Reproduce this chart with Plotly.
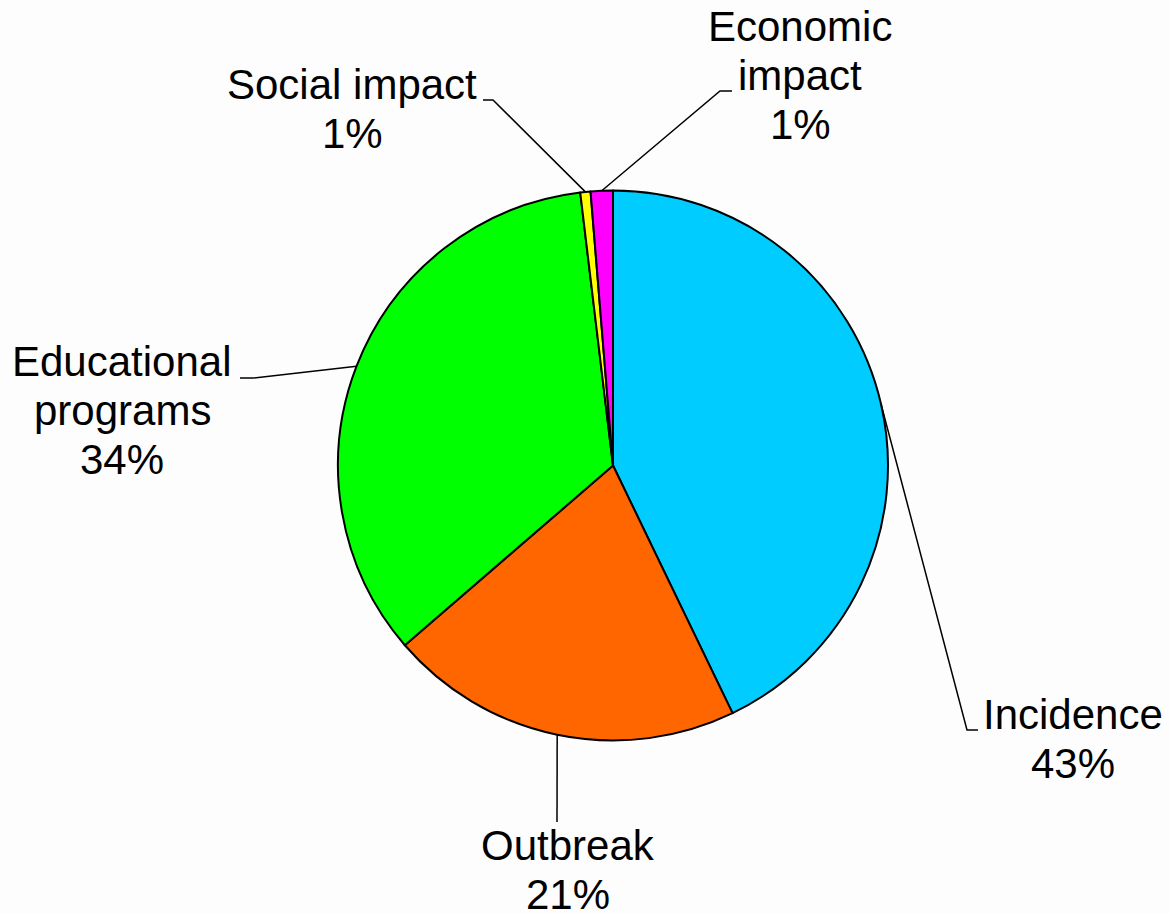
import math
import plotly.graph_objects as go

# ---- data ----
categories = ["Incidence", "Outbreak", "Educational programs", "Social impact", "Economic impact"]
values = [42.8, 20.8, 34.4, 0.6, 1.3]
colors = ["#00CCFF", "#FF6600", "#00FF00", "#FFFF00", "#FF00FF"]
label_lines = [["Incidence"], ["Outbreak"], ["Educational", "programs"], ["Social impact"], ["Economic", "impact"]]

# ---- layout constants (pixels) ----
W, H = 1169, 914
CX, CY, R = 613, 465.5, 275
FONT = 42
LINE_STEP = 49
# first-line text centre x, first-line baseline y
label_pos = [(1073, 730), (568, 861), (122, 377), (352, 100), (800, 42)]
# leader polyline points after the pie-edge point (elbow, end)
leader_pts = [
    [(967, 730), (978, 730)],
    [(557, 822)],
    [(253, 378), (240, 378)],
    [(493, 100), (483, 100)],
    [(720, 91), (732, 91)],
]

def px(x):
    return x / W

def py(y):
    return 1 - y / H

fig = go.Figure()
fig.add_trace(go.Pie(
    labels=categories, values=values, sort=False, direction="clockwise", rotation=0,
    marker=dict(colors=colors, line=dict(color="black", width=2)),
    textinfo="none", hoverinfo="label+percent", showlegend=False,
    domain=dict(x=[px(CX - R), px(CX + R)], y=[py(CY + R), py(CY - R)]),
))

total = sum(values)
shapes = []
annotations = []
cum = 0.0
for i, v in enumerate(values):
    mid = (cum + v / 2) / total * 2 * math.pi
    cum += v
    ex = CX + R * math.sin(mid)
    ey = CY - R * math.cos(mid)
    pts = [(ex, ey)] + leader_pts[i]
    path = "M " + " L ".join(f"{px(x):.5f},{py(y):.5f}" for x, y in pts)
    shapes.append(dict(type="path", xref="paper", yref="paper", path=path,
                       line=dict(color="black", width=1.5)))
    pct = f"{round(v / total * 100)}%"
    lines = label_lines[i] + [pct]
    lx, ly = label_pos[i]
    for j, t in enumerate(lines):
        base = ly + j * LINE_STEP
        annotations.append(dict(
            x=px(lx), y=py(base - 0.36 * FONT), xref="paper", yref="paper",
            text=t, showarrow=False, xanchor="center", yanchor="middle",
            font=dict(family="Liberation Sans, Arial", size=FONT, color="black"),
        ))

fig.update_layout(
    width=W, height=H, margin=dict(l=0, r=0, t=0, b=0),
    paper_bgcolor="#FDFDFD", plot_bgcolor="#FDFDFD",
    shapes=shapes, annotations=annotations,
)
fig.write_html("out.html", config={"displayModeBar": False},
               post_script="document.body.style.margin='0px';document.body.style.overflow='hidden';")
